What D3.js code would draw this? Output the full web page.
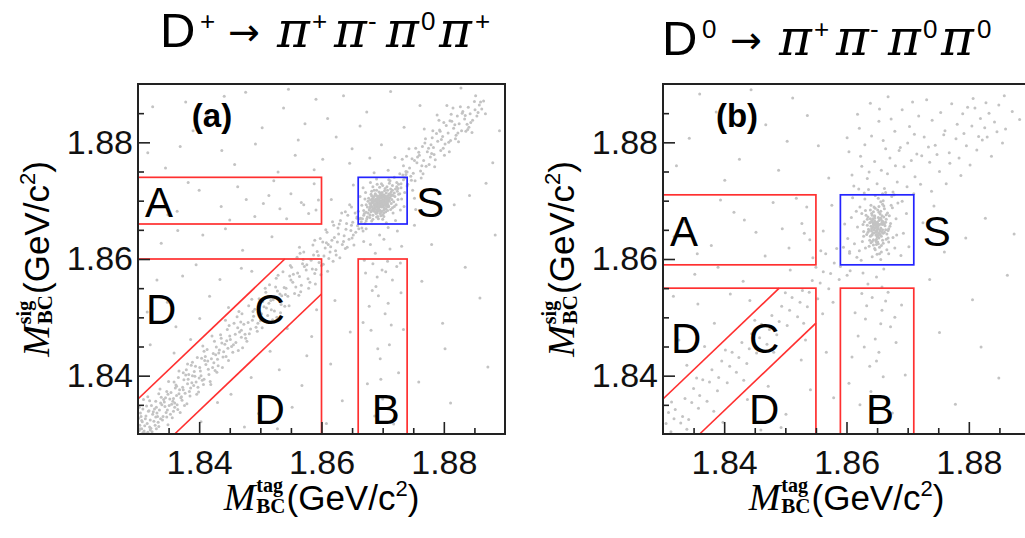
<!DOCTYPE html>
<html>
<head>
<meta charset="utf-8">
<script src="https://cdn.jsdelivr.net/npm/d3@7"></script>
<style>
  body { margin: 0; background: #fff; }
  svg { display: block; }
</style>
</head>
<body>
<svg id="chart" width="1025" height="538"></svg>
<script>
// Beam-constrained masses, MeV/c^2 (tag side, signal side)
const massDomain = [1830, 1890];
const majorTicks = [1840, 1860, 1880];
const majorTickLabels = ["1.84", "1.86", "1.88"];
const minorTicks = [1835, 1845, 1850, 1855, 1865, 1870, 1875, 1885];

// Region definitions: signal window, sideband upper edge, diagonal band half-width
const signalWindowA = [1866, 1874];
const sidebandEdgeA = 1860;
const diagHalfWidthA = 6;
const signalWindowB = [1859, 1871];
const sidebandEdgeB = 1855;
const diagHalfWidthB = 6;

// ---- D+ -> pi+ pi- pi0 pi+ candidates ----
const peakA = [
[1869.5,1869.4],[1870.2,1869.9],[1868.7,1868.8],[1869.9,1870.8],[1871.0,1870.1],[1868.2,1869.6],[1869.1,1867.9],[1870.6,1871.3],[1867.8,1868.4],[1869.7,1869.0],
[1870.9,1869.2],[1868.9,1870.3],[1869.3,1868.6],[1871.5,1871.0],[1868.4,1867.5],[1870.1,1868.9],[1869.0,1870.9],[1867.6,1869.9],[1870.4,1870.4],[1872.0,1870.7],
[1869.8,1869.7],[1869.2,1869.1],[1870.0,1870.2],[1868.6,1869.3],[1869.6,1868.3],[1870.7,1870.0],[1868.1,1868.1],[1871.3,1872.0],[1869.4,1871.5],[1870.5,1868.6],
[1867.9,1867.1],[1871.8,1869.8],[1868.8,1871.2],[1869.0,1869.6],[1870.3,1869.5],[1869.6,1870.0],[1868.5,1870.6],[1871.2,1870.5],[1870.8,1871.8],[1869.3,1870.3],
[1868.3,1868.9],[1869.9,1868.2],[1870.6,1869.4],[1867.3,1868.0],[1872.4,1871.6],[1869.5,1872.3],[1868.0,1870.1],[1871.6,1868.8],[1870.0,1867.6],[1869.2,1870.6],
[1869.7,1869.3],[1870.4,1869.7],[1868.9,1869.9],[1869.4,1868.9],[1870.9,1870.9],[1868.6,1868.2],[1870.2,1871.0],[1871.4,1869.5],[1869.0,1868.4],[1868.2,1870.8],
[1869.8,1870.5],[1869.1,1869.8],[1870.6,1870.6],[1868.7,1869.0],[1870.1,1869.3],[1869.5,1869.8],[1870.5,1868.1],[1867.7,1870.4],[1871.9,1871.3],[1870.0,1872.6],
[1868.4,1866.8],[1872.6,1872.8],[1866.9,1867.5],[1869.3,1866.9],[1871.1,1873.0],[1867.2,1871.4],[1873.1,1870.3],[1868.0,1873.1],[1872.9,1868.4],[1866.6,1869.2],
[1869.6,1869.1],[1870.3,1870.1],[1869.0,1870.2],[1868.8,1868.6],[1870.7,1869.9],[1869.9,1869.4],[1869.4,1870.1],[1870.1,1870.6],[1868.5,1869.7],[1871.0,1869.0],
[1869.2,1868.2],[1869.8,1871.1],[1870.8,1868.9],[1868.1,1869.2],[1871.7,1870.9],[1869.7,1867.4],[1867.5,1868.9],[1870.4,1872.1],[1868.6,1871.8],[1871.4,1871.5],
[1869.5,1870.4],[1870.0,1869.0],[1869.1,1869.5],[1870.5,1870.3],[1868.9,1868.0],[1870.2,1868.4],[1869.3,1870.7],[1870.9,1870.4],[1868.3,1870.3],[1871.3,1868.5],
[1872.2,1869.3],[1867.4,1866.9],[1873.4,1873.6],[1866.5,1866.4],[1869.0,1873.7],[1873.5,1869.0],[1866.8,1872.2],[1872.1,1866.6],[1870.6,1866.2],[1866.3,1870.7],
[1869.6,1869.6],[1869.9,1870.0],[1870.3,1869.2],[1869.0,1869.0],[1870.1,1870.9],[1868.7,1870.0],[1870.7,1870.7],[1869.4,1868.5],[1870.8,1869.6],[1869.7,1871.0],
[1868.4,1868.6],[1871.1,1871.2],[1869.2,1867.3],[1867.9,1869.5],[1871.5,1870.2],[1870.2,1867.9],[1868.2,1871.6],[1872.3,1872.4],[1867.0,1867.8],[1869.8,1872.9],
[1874.0,1872.5],[1865.8,1867.2],[1873.8,1874.5],[1866.1,1865.2],[1868.6,1874.8],[1875.2,1870.4],[1864.9,1868.9],[1870.9,1865.4],
[1869.4,1869.6],[1870.0,1869.8],[1869.1,1870.0],[1870.4,1870.8],[1868.8,1869.4],[1869.7,1870.7],[1870.6,1869.1],[1869.2,1868.8],[1868.5,1870.2],[1870.9,1870.2],
[1869.9,1871.4],[1868.9,1867.8],[1871.3,1870.8],[1867.9,1868.7],[1870.2,1867.3],[1868.3,1869.9],[1871.6,1871.8],[1869.6,1867.8],[1870.7,1872.4],[1867.6,1867.9],
[1869.0,1871.8],[1871.9,1869.0],[1868.1,1871.1],[1872.5,1870.2],[1870.3,1871.7],[1868.7,1870.9],[1869.3,1869.3],[1870.1,1870.0],[1869.8,1868.9],[1870.5,1869.6],
[1868.6,1868.5],[1869.5,1870.9],[1871.1,1869.9],[1868.0,1869.0],[1870.8,1870.5],[1869.7,1868.0],[1867.3,1869.3],[1872.1,1872.0],[1868.4,1872.4],[1871.7,1867.9],
[1866.9,1868.3],[1872.8,1871.2],[1870.0,1866.8],[1869.1,1872.8],[1867.1,1870.3],[1873.0,1872.9],[1868.2,1866.5],[1871.0,1873.6],[1866.7,1866.9],[1873.6,1871.4],
[1869.9,1869.1],[1869.3,1870.4],[1870.6,1870.2],[1868.9,1869.2],[1870.3,1868.7],[1869.6,1871.3],[1871.2,1871.1],[1868.2,1868.3],[1870.8,1868.3],[1869.0,1867.2]
];
const diagA = [
[1830.3,1831.5],[1830.8,1830.2],[1831.2,1832.6],[1831.0,1830.5],[1831.7,1833.9],[1832.1,1831.0],[1830.5,1833.0],[1832.6,1832.2],[1833.0,1830.9],[1831.4,1834.8],
[1833.5,1834.1],[1832.9,1835.6],[1834.0,1832.4],[1830.2,1834.6],[1833.8,1836.3],[1834.6,1833.7],[1832.3,1830.4],[1835.1,1834.9],[1831.9,1835.7],[1834.3,1835.5],
[1835.6,1832.8],[1830.7,1832.1],[1836.0,1835.3],[1833.2,1833.0],[1835.4,1837.1],[1836.5,1834.2],[1832.7,1834.3],[1834.9,1831.6],[1836.8,1837.6],[1837.2,1835.8],
[1833.6,1837.7],[1836.2,1838.4],[1837.7,1837.0],[1838.0,1835.2],[1835.8,1836.1],[1830.9,1835.9],[1837.5,1839.3],[1838.6,1837.9],[1836.9,1833.7],[1839.1,1838.3],
[1838.3,1840.2],[1839.6,1836.8],[1837.9,1841.0],[1840.0,1839.6],[1839.4,1841.6],[1840.7,1838.5],[1841.1,1841.9],[1838.9,1842.3],[1841.6,1840.2],[1840.4,1843.0],
[1842.2,1841.4],[1841.8,1839.0],[1842.7,1843.6],[1843.1,1841.7],[1841.3,1844.5],[1843.9,1843.2],[1844.2,1845.4],[1842.5,1845.9],[1844.8,1842.6],[1845.3,1845.0],
[1843.6,1846.4],[1845.9,1847.1],[1846.4,1844.3],[1844.6,1847.9],[1846.9,1846.6],[1847.3,1848.8],[1845.7,1849.0],[1847.8,1845.9],[1848.4,1848.0],[1846.2,1850.1],
[1848.9,1850.2],[1849.5,1847.6],[1849.1,1851.4],[1850.0,1849.4],[1848.1,1852.0],[1850.6,1851.8],[1851.2,1850.3],[1849.8,1853.2],[1851.7,1852.9],[1852.3,1851.1],
[1850.9,1854.3],[1852.8,1854.5],[1853.4,1852.2],[1851.5,1855.6],[1853.9,1855.1],[1854.5,1853.6],[1852.6,1856.7],[1855.0,1856.4],[1855.6,1854.1],[1853.7,1857.8],
[1856.1,1857.6],[1856.7,1855.5],[1854.9,1858.9],[1857.2,1858.7],[1857.8,1856.6],[1856.0,1860.3],[1858.3,1859.8],[1858.9,1857.5],[1857.1,1861.2],[1859.5,1860.6],
[1860.0,1858.9],[1858.6,1862.4],[1860.6,1861.9],[1861.2,1860.1],[1859.8,1863.5],[1861.7,1863.2],[1862.3,1861.4],[1860.9,1864.6],[1862.8,1864.3],[1863.4,1862.5],
[1862.0,1865.8],[1864.0,1865.1],[1864.5,1863.4],[1863.1,1866.6],[1865.1,1866.3],[1865.6,1864.6],[1864.3,1867.5],
[1830.6,1830.9],[1831.5,1831.8],[1832.4,1833.4],[1830.1,1832.7],[1833.3,1832.0],[1834.4,1834.7],[1831.8,1834.0],[1835.2,1836.0],[1833.9,1835.0],[1836.3,1836.6],
[1834.7,1837.3],[1837.0,1836.2],[1835.9,1838.9],[1838.1,1838.6],[1836.6,1839.7],[1839.3,1839.9],[1837.4,1840.5],[1840.2,1840.8],[1838.7,1841.8],[1841.4,1842.5],
[1839.7,1843.1],[1842.0,1842.9],[1840.8,1844.2],[1843.3,1844.4],[1842.9,1840.6],[1844.0,1844.1],[1843.5,1847.0],[1845.1,1846.2],[1846.6,1847.5],[1844.9,1848.6],
[1847.5,1847.1],[1848.7,1849.5],[1847.0,1850.6],[1849.9,1850.9],[1851.0,1851.6],[1850.3,1848.2],[1852.1,1853.0],[1853.2,1854.0],[1852.0,1849.6],[1854.2,1855.0],
[1855.3,1856.0],[1854.0,1851.9],[1856.4,1857.0],[1857.5,1858.1],[1856.3,1853.8],[1858.5,1858.3],[1859.6,1859.4],[1859.0,1855.7],[1860.4,1860.5],[1861.5,1862.1],
[1861.0,1857.9],[1862.6,1862.9],[1863.7,1864.0],[1863.0,1860.2],[1864.8,1864.9],[1865.9,1865.7],[1865.3,1862.4],[1866.4,1867.0],[1867.1,1866.1],[1866.0,1868.2],
[1830.2,1830.6],[1830.4,1833.6],[1831.1,1831.4],[1831.6,1830.3],[1832.0,1832.4],[1832.2,1834.9],[1832.8,1831.5],[1833.1,1833.6],[1833.4,1831.3],[1833.7,1835.3],
[1834.1,1833.0],[1834.5,1836.2],[1834.8,1834.1],[1835.3,1833.4],[1835.7,1835.6],[1836.1,1837.9],[1836.4,1835.0],[1836.7,1836.9],[1837.3,1838.0],[1837.6,1834.9],
[1838.2,1839.4],[1838.5,1836.5],[1838.8,1838.8],[1839.2,1840.7],[1839.8,1838.0],[1840.1,1841.4],[1840.5,1839.2],[1840.9,1842.6],[1841.5,1841.1],[1842.3,1843.8],
[1842.6,1840.9],[1843.0,1842.8],[1843.7,1845.6],[1844.4,1843.3],[1845.0,1846.8],[1845.5,1844.0],[1846.0,1845.7],[1846.8,1849.2],[1847.6,1846.4],[1848.2,1847.2],
[1848.8,1851.0],[1849.6,1849.0],[1850.4,1852.7],[1851.1,1849.1],[1851.8,1851.3],[1852.5,1855.2],[1853.3,1850.8],[1854.1,1853.9],[1854.8,1857.1],[1855.8,1855.2],
[1856.9,1859.2],[1857.9,1855.0],[1858.7,1860.7],[1859.9,1857.3],[1860.8,1862.8],[1861.9,1859.6],[1862.9,1866.0],[1864.2,1862.0],[1865.5,1867.9],[1866.8,1864.8],
[1867.5,1867.2],
[1830.6,1832.3],[1831.9,1831.2],[1830.3,1830.9],[1832.5,1833.8],[1831.3,1833.1],[1833.7,1832.6],[1830.8,1834.3],[1834.2,1835.9],[1832.0,1830.7],[1833.0,1834.6],
[1835.5,1835.1],[1831.6,1836.4],[1834.7,1832.9],[1836.3,1838.2],[1833.4,1836.9],[1837.1,1836.4],[1835.0,1839.0],[1838.4,1837.3],[1836.0,1834.6],[1837.8,1840.1],
[1839.5,1838.9],[1838.1,1842.0],[1840.3,1840.0],[1836.7,1840.8],[1841.0,1843.3],[1839.9,1837.2],[1842.4,1842.2],[1840.6,1845.1],[1843.2,1843.9],[1841.9,1838.5],
[1844.5,1846.0],[1843.8,1841.4],[1842.1,1846.8],[1845.6,1845.3],[1846.3,1848.2],[1844.3,1849.5],[1847.1,1844.8],[1848.0,1849.1],[1846.5,1851.0],[1849.3,1848.3],
[1850.2,1850.6],[1848.6,1853.1],[1851.4,1852.4],[1852.7,1850.0],[1850.8,1855.0],[1853.5,1853.7],[1854.7,1852.0],[1852.9,1857.2],[1855.4,1857.4],[1856.6,1854.4],
[1855.1,1858.6],[1857.6,1859.0],[1858.1,1856.0],[1856.5,1861.0],[1859.3,1861.3],[1860.3,1859.1],[1858.9,1863.2],[1861.1,1862.5],[1862.4,1860.7],[1860.7,1865.0],
[1862.1,1863.7],[1863.6,1863.0],[1861.8,1866.4],[1864.1,1866.1],[1865.0,1863.6],[1863.3,1867.9],[1865.8,1867.0],[1866.6,1865.3],[1864.6,1869.3],[1867.3,1866.5],
[1857.0,1859.9],[1859.1,1858.2],[1860.2,1862.9],[1861.4,1861.2],[1863.9,1861.8],[1862.7,1865.3],[1864.9,1865.8],[1866.2,1866.9],[1865.2,1864.1],[1867.9,1867.6],
[1831.1,1830.1],[1832.9,1832.9],[1834.9,1836.8],[1835.8,1833.9],[1837.4,1837.6],[1838.9,1840.0],[1840.8,1839.4],[1842.8,1844.9],[1844.7,1844.7],[1846.9,1847.8],
[1872.3,1873.1],[1873.0,1872.2],[1872.8,1874.6],[1873.6,1873.9],[1874.1,1872.8],[1874.4,1875.6],[1873.4,1876.0],[1875.0,1874.7],[1875.6,1876.5],[1874.8,1877.2],
[1876.2,1875.1],[1876.0,1877.8],[1876.7,1876.9],[1877.3,1878.4],[1877.1,1875.9],[1877.8,1877.5],[1876.5,1879.3],[1878.3,1879.1],[1878.6,1877.0],[1879.0,1880.2],
[1878.1,1880.8],[1879.5,1878.6],[1879.8,1881.0],[1880.2,1879.7],[1879.3,1882.1],[1880.7,1881.6],[1881.1,1880.3],[1880.4,1882.9],[1881.6,1882.4],[1882.0,1881.2],
[1881.3,1883.6],[1882.5,1883.2],[1882.9,1882.0],[1882.2,1884.5],[1883.4,1884.0],[1883.8,1883.1],[1883.1,1885.3],[1884.3,1884.9],[1884.7,1883.8],[1884.0,1886.0],
[1885.1,1885.6],[1885.4,1884.5],[1885.8,1886.4],[1886.2,1885.7],[1872.6,1871.1],[1873.8,1875.0],[1875.3,1873.4],[1875.9,1878.3],[1877.6,1876.2],[1878.8,1881.5],
[1879.9,1879.0],[1881.0,1883.7],[1881.9,1880.6],[1883.0,1885.0],[1884.1,1882.6],[1885.0,1887.0],[1874.6,1874.2],[1876.9,1879.9],[1878.0,1878.1],[1880.0,1883.4],
[1882.7,1886.1],[1883.6,1881.9],[1886.5,1887.1],[1871.9,1874.0],[1873.2,1877.1],[1875.4,1879.0],[1877.0,1880.6],[1879.2,1883.8],[1881.5,1885.9],[1874.9,1871.8],
[1876.3,1873.9],[1878.5,1875.8],[1880.9,1878.4],[1882.4,1880.1],[1884.6,1881.7],[1870.9,1875.2],[1872.0,1877.4],[1886.8,1884.9],[1880.5,1886.3],[1878.9,1884.7],
[1876.8,1882.3],[1874.3,1878.9],
[1872.5,1872.1],[1873.3,1874.4],[1874.7,1873.5],[1875.2,1876.9],[1876.4,1876.0],[1877.5,1879.0],[1878.4,1877.9],[1879.6,1880.5],[1880.8,1880.0],[1881.8,1883.0],
[1882.3,1881.6],[1883.5,1884.6],[1884.4,1883.4],[1885.6,1885.1],[1886.0,1886.9],[1873.9,1877.6],[1876.6,1874.6],[1878.2,1882.0],[1880.1,1877.8],[1881.2,1884.8],
[1883.9,1882.2],[1885.2,1888.0],[1875.7,1877.5],[1877.9,1879.6],[1879.4,1881.9],[1871.6,1872.6],[1874.0,1874.9],[1871.2,1873.4]
];
const bandsA = [
[1868.4,1859.2],[1869.9,1858.1],[1867.2,1857.6],[1870.8,1859.6],[1871.6,1856.4],[1868.9,1855.3],[1872.3,1858.7],[1869.3,1853.7],[1867.8,1851.9],[1870.4,1850.6],
[1873.0,1854.2],[1868.1,1847.8],[1871.1,1845.3],[1869.6,1842.9],[1872.6,1840.5],[1867.5,1838.6],[1870.0,1836.0],[1868.7,1833.1],[1871.8,1831.7],[1869.1,1856.9],
[1870.5,1857.8],[1867.0,1859.8],[1872.9,1859.3],[1868.3,1854.6],[1870.9,1852.4],[1866.8,1849.1],[1873.4,1847.9],[1869.2,1844.6],[1871.4,1848.7],[1869.7,1839.4],
[1868.0,1862.5],[1869.5,1864.1],[1871.2,1861.7],[1870.2,1863.4],[1867.3,1865.2],[1872.4,1864.8],[1868.8,1861.0],[1866.9,1863.0],[1873.1,1862.2],
[1832.8,1870.5],[1836.4,1868.2],[1840.0,1871.8],[1843.6,1869.0],[1846.3,1872.4],[1849.1,1867.3],[1851.4,1870.9],[1853.2,1868.6],[1855.0,1871.2],[1856.7,1869.7],
[1857.9,1867.8],[1858.8,1872.9],[1859.5,1870.1],[1838.2,1873.1],[1845.0,1866.7],[1852.2,1873.4],[1854.3,1866.9],[1857.1,1869.3],[1859.1,1868.4],[1847.7,1870.2],
[1834.9,1867.6],[1850.5,1869.5],[1875.4,1868.5],[1876.8,1871.7],[1878.2,1869.9]
];
const flatA = [
[1832.4,1886.1],[1836.9,1879.3],[1841.2,1884.7],[1845.8,1876.2],[1850.3,1882.5],[1855.7,1877.8],[1859.1,1887.4],[1862.4,1880.9],[1834.5,1875.6],[1847.6,1888.6],
[1852.9,1874.9],[1857.3,1883.2],[1839.0,1882.0],[1843.7,1878.6],[1864.6,1876.4],[1861.0,1884.1],[1849.2,1879.7],[1853.8,1885.9],[1858.8,1875.3],[1863.6,1888.0],
[1866.3,1882.8],[1831.6,1878.2],[1844.1,1887.9],[1856.2,1880.4],[1837.8,1886.9],[1865.0,1878.9],[1860.2,1877.1],[1854.6,1889.1],
[1833.8,1862.7],[1840.6,1864.1],[1847.1,1861.5],[1851.9,1863.8],[1856.4,1862.0],[1844.3,1865.2],[1836.5,1864.9],
[1832.0,1845.3],[1834.8,1852.6],[1837.3,1857.1],[1840.1,1849.8],[1843.4,1856.5],[1846.9,1858.4],[1831.5,1850.9],[1838.6,1846.2],[1835.9,1843.9],[1841.7,1853.6],
[1844.8,1851.7],[1848.6,1857.9],[1833.1,1856.4],[1839.5,1859.0],[1836.2,1848.4],
[1840.3,1832.1],[1845.2,1836.8],[1849.7,1833.5],[1853.1,1841.0],[1856.8,1838.3],[1858.4,1846.7],[1851.6,1844.2],[1847.4,1831.2],[1855.2,1834.6],[1859.2,1851.3],
[1843.0,1835.4],[1852.8,1830.9],[1857.6,1843.4],[1848.5,1839.7],[1854.4,1848.1],
[1861.5,1842.0],[1863.4,1835.7],[1862.2,1852.9],[1864.7,1847.5],[1860.8,1831.8],
[1876.4,1856.2],[1879.8,1849.0],[1883.5,1858.6],[1887.2,1841.5],[1881.1,1835.3],[1878.0,1862.5],[1885.9,1853.3],[1875.9,1838.9],[1888.4,1864.1],[1880.2,1844.6],
[1878.6,1867.4],[1884.2,1870.9],[1888.0,1876.5],[1876.1,1886.3],[1871.3,1888.7],[1867.4,1885.2],[1869.8,1879.6],[1873.5,1882.6],[1886.9,1873.0],[1881.7,1869.3],
[1889.1,1882.0],[1875.2,1865.8],[1867.9,1877.3],[1882.8,1889.3],
[1861.6,1870.2],[1863.9,1868.1],[1865.2,1872.7]
];

// ---- D0 -> pi+ pi- pi0 pi0 candidates ----
const peakB = [
[1864.9,1865.5],[1865.6,1866.8],[1864.2,1864.1],[1865.3,1863.6],[1864.6,1867.4],[1865.9,1865.0],[1863.8,1866.2],[1865.1,1862.9],[1866.4,1866.3],[1864.4,1868.1],
[1865.0,1864.7],[1864.7,1866.0],[1865.4,1865.9],[1864.1,1865.2],[1866.0,1864.4],[1865.2,1867.1],[1863.5,1864.6],[1866.7,1867.9],[1864.8,1863.1],[1865.7,1862.3],
[1864.3,1866.9],[1865.5,1864.2],[1864.0,1862.8],[1866.2,1868.6],[1863.2,1867.5],[1865.8,1866.5],[1864.5,1865.0],[1865.1,1866.1],[1866.9,1865.2],[1863.9,1863.9],
[1865.3,1869.0],[1864.6,1861.8],[1866.5,1863.4],[1863.4,1865.8],[1865.0,1865.6],[1864.9,1864.9],[1865.6,1865.3],[1864.2,1866.6],[1866.1,1867.2],[1864.7,1868.7],
[1865.2,1864.0],[1863.7,1862.2],[1867.2,1866.1],[1864.4,1863.3],[1865.9,1869.4],[1862.9,1866.4],[1866.6,1861.6],[1864.1,1867.8],[1865.4,1860.9],[1867.5,1868.8],
[1864.8,1865.8],[1865.1,1865.1],[1864.5,1864.5],[1865.7,1866.0],[1864.3,1865.4],[1866.3,1865.7],[1865.0,1863.8],[1864.6,1866.5],[1865.8,1864.6],[1863.6,1865.1],
[1865.5,1867.7],[1864.0,1864.0],[1866.8,1864.9],[1864.9,1862.5],[1863.1,1868.3],[1866.0,1870.0],[1862.6,1863.0],[1867.6,1863.7],[1865.2,1870.4],[1864.2,1860.4],
[1861.8,1865.5],[1868.1,1866.9],[1862.2,1868.9],[1867.9,1861.9],[1865.6,1859.9],[1863.0,1870.3],[1868.4,1869.6],[1861.3,1862.6],[1866.4,1871.4],[1860.8,1867.1],
[1865.0,1866.3],[1864.7,1865.3],[1865.3,1864.4],[1864.4,1865.9],[1865.9,1865.9],[1864.1,1864.8],[1865.6,1867.0],[1864.9,1863.4],[1866.2,1866.0],[1863.9,1866.9],
[1865.4,1862.0],[1864.6,1867.3],[1866.6,1864.3],[1863.3,1864.2],[1865.1,1868.4],[1866.0,1862.7],[1864.0,1869.2],[1867.0,1867.4],[1862.8,1864.7],[1865.7,1861.2],
[1864.3,1866.2],[1865.2,1865.7],[1864.8,1864.6],[1865.5,1865.0],[1864.5,1866.0],[1865.8,1866.2],[1864.0,1865.6],[1866.4,1865.0],[1865.0,1864.2],[1864.6,1867.0],
[1869.3,1864.4],[1860.2,1863.5],[1869.8,1867.8],[1861.0,1870.5],[1868.9,1860.6],[1862.4,1859.8],[1870.2,1862.1],[1859.7,1866.0],[1867.4,1870.7],[1863.6,1871.9],
[1865.3,1866.6],[1864.8,1864.1],[1865.9,1863.2],[1864.2,1867.5],[1866.5,1866.8],[1863.8,1863.2],[1865.6,1868.2],[1864.4,1862.4],[1866.1,1869.1],[1863.5,1867.2],
[1867.1,1865.6],[1862.7,1865.9],[1866.9,1862.9],[1862.1,1861.4],[1868.2,1864.1],[1861.6,1868.2],[1867.8,1871.0],[1860.5,1861.3],[1869.1,1869.9],[1862.0,1872.0],
[1865.1,1865.3],[1864.6,1866.3],[1865.5,1864.8],[1864.3,1864.4],[1865.8,1867.4],[1864.9,1862.9],[1865.3,1868.0],[1864.0,1866.4],[1866.2,1864.6],[1864.7,1861.6],
[1865.6,1869.8],[1863.7,1864.9],[1866.5,1867.6],[1864.5,1868.9],[1865.0,1860.8],[1863.4,1866.8],[1866.8,1863.6],[1864.2,1863.0],[1865.4,1866.9],[1864.8,1865.9],
[1865.2,1862.6],[1863.9,1868.4],[1866.0,1866.4],[1864.4,1865.6],[1865.7,1863.9],[1867.3,1869.2],[1862.5,1867.8],[1866.9,1860.9],[1863.1,1861.9],[1865.9,1871.2]
];
const diagB = [
[1830.5,1831.8],[1831.3,1830.4],[1832.0,1834.2],[1832.9,1831.9],[1833.6,1836.1],[1834.2,1832.5],[1835.0,1837.8],[1835.8,1834.4],[1836.5,1839.3],[1837.2,1835.6],
[1838.0,1841.0],[1838.9,1837.4],[1839.6,1842.5],[1840.5,1838.8],[1841.3,1844.0],[1842.0,1840.6],[1842.9,1845.7],[1843.7,1842.1],[1844.5,1847.2],[1845.3,1843.9],
[1846.1,1848.8],[1847.0,1845.4],[1847.8,1850.3],[1848.6,1847.0],[1849.4,1851.9],[1850.3,1848.6],[1851.1,1853.4],[1852.0,1850.1],[1852.8,1854.6],[1853.6,1851.8],
[1854.4,1856.3],[1855.3,1853.2],[1856.2,1857.8],[1857.1,1854.9],[1858.0,1859.3],[1858.8,1856.5],
[1830.9,1833.7],[1831.8,1832.6],[1833.2,1833.0],[1834.7,1835.4],[1836.0,1836.6],[1837.6,1838.9],[1839.1,1839.7],[1840.9,1841.6],[1842.4,1843.1],[1844.1,1844.6],
[1845.8,1846.5],[1847.4,1847.9],[1849.0,1849.3],[1850.7,1851.2],[1852.4,1852.6],[1853.9,1854.3],[1855.7,1855.9],[1857.4,1857.5],[1859.0,1858.7],[1860.5,1861.0],
[1861.7,1860.3],[1862.8,1863.9],
[1831.4,1835.5],[1833.9,1830.8],[1835.5,1839.6],[1838.3,1833.9],[1840.2,1844.4],[1843.2,1839.2],[1845.0,1849.5],[1848.1,1844.0],[1850.0,1854.2],[1853.0,1849.0],
[1855.0,1858.6],[1857.8,1852.6],[1859.5,1862.0],[1860.1,1857.2],[1856.6,1860.9],[1858.4,1861.8]
];
const cloudB = [
[1861.2,1872.5],[1863.4,1873.8],[1865.0,1872.9],[1866.7,1874.6],[1868.3,1873.2],[1862.5,1875.9],[1864.6,1876.7],[1867.1,1877.3],[1869.4,1875.8],[1871.2,1874.1],
[1860.4,1878.4],[1863.0,1879.6],[1866.0,1880.3],[1868.8,1879.1],[1871.5,1878.0],[1873.6,1876.6],[1875.2,1875.0],[1862.1,1882.4],[1865.3,1883.6],[1867.9,1881.9],
[1870.3,1882.7],[1872.7,1880.9],[1874.5,1879.5],[1876.8,1878.2],[1878.4,1877.3],[1869.1,1885.6],[1871.8,1884.5],[1874.0,1883.8],[1876.1,1882.0],[1877.9,1880.6],
[1879.6,1879.4],[1881.3,1878.7],[1880.5,1882.8],[1881.9,1884.1],[1882.6,1882.5],[1883.3,1885.0],[1881.0,1885.9],[1884.2,1883.5],[1882.2,1880.4],[1879.0,1884.9],
[1877.2,1886.6],[1875.4,1885.1],[1873.1,1887.3],[1884.9,1886.4],[1886.0,1882.3],[1885.5,1879.9],[1883.7,1877.6],[1880.2,1876.1],[1878.7,1874.3],[1876.3,1872.9],
[1873.9,1871.6],[1872.1,1872.8],[1870.6,1876.9],[1868.6,1878.6],[1866.4,1878.9],[1864.1,1881.1],[1861.8,1884.8],[1863.9,1886.7],[1866.8,1887.8],[1860.9,1874.4],
[1862.9,1871.3],[1864.7,1870.9],[1866.2,1872.1],[1867.6,1871.5],[1869.9,1872.4],[1871.0,1871.2],[1863.7,1874.9],[1865.7,1875.2],[1868.0,1876.0],[1870.0,1879.9],
[1872.3,1877.7],[1874.8,1877.9],[1876.9,1876.4],[1879.2,1881.5],[1881.6,1881.0],[1883.0,1880.9],[1884.6,1881.8],[1882.8,1886.8],[1880.7,1887.5],[1878.1,1883.1],
[1875.9,1881.3],[1873.4,1879.2],[1871.1,1881.4],[1867.3,1884.0],[1862.3,1877.6],[1860.1,1880.8],[1885.8,1888.0],[1887.1,1885.3],[1888.3,1883.9],[1870.8,1886.9],
[1865.4,1885.7],[1879.8,1886.0]
];
const bandsB = [
[1864.2,1853.4],[1865.8,1851.2],[1863.1,1849.7],[1866.4,1852.8],[1862.5,1854.1],[1867.2,1848.4],[1864.7,1846.3],[1861.4,1850.8],[1865.3,1844.0],[1868.1,1845.7],
[1863.8,1841.6],[1866.0,1839.8],[1860.9,1843.2],[1869.0,1852.1],[1864.0,1837.3],[1862.2,1835.0],[1867.5,1833.6],[1865.6,1848.9],[1863.3,1852.0],[1866.8,1854.3],
[1861.9,1846.8],[1864.9,1842.5],[1869.6,1840.1],[1860.4,1838.7],[1865.1,1831.9],[1867.9,1850.0],[1862.9,1844.9],
[1833.5,1866.4],[1837.9,1862.3],[1841.6,1868.0],[1845.2,1864.6],[1848.0,1869.7],[1850.6,1861.9],[1852.7,1866.1],[1854.0,1863.3],[1853.5,1868.9],[1849.5,1865.2],
[1846.7,1860.5],[1839.4,1870.1],[1835.6,1860.9],[1851.8,1870.4],[1854.5,1860.2],[1843.3,1866.7],[1831.8,1863.8],[1853.1,1864.4]
];
const flatB = [
[1834.3,1880.7],[1838.7,1885.2],[1842.5,1877.1],[1846.8,1883.0],[1851.2,1887.6],[1855.4,1879.4],[1840.1,1873.5],[1848.9,1875.2],[1853.6,1884.6],[1836.0,1888.3],
[1857.1,1873.9],[1832.2,1876.0],[1844.4,1889.0],[1850.3,1880.2],
[1835.2,1857.4],[1843.1,1856.2],[1850.8,1858.1],[1839.0,1858.6],
[1832.6,1846.1],[1835.7,1852.3],[1838.4,1849.0],[1841.0,1854.0],[1833.9,1841.8],[1836.8,1845.0],[1844.2,1852.9],[1831.7,1853.6],[1839.8,1832.0],[1843.8,1835.9],
[1847.2,1838.2],[1850.1,1833.4],[1852.6,1842.7],[1854.1,1837.6],[1849.3,1831.1],[1846.0,1830.7],[1853.3,1846.1],
[1856.7,1844.0],[1857.9,1836.2],[1856.1,1850.6],
[1875.2,1847.4],[1880.6,1853.0],[1884.9,1839.6],[1877.8,1835.1],[1886.3,1857.2],[1873.6,1856.5],[1882.0,1844.9],
[1876.0,1861.2],[1882.7,1867.0],[1887.4,1864.3],[1874.3,1869.1],[1879.5,1863.6],[1872.5,1866.2],
[1856.2,1864.8],[1857.6,1869.2],[1855.8,1861.4],
[1862.7,1857.6],[1864.9,1856.9],[1866.1,1858.3],[1863.5,1855.7],[1865.8,1855.2],[1860.6,1858.0]
];

// Titles: [text, role]
const titleA = [["D",""],["+","sup"],["\u2192","arrow"],["\u03c0","pi"],["+","sup"],["\u03c0","pi"],["-","sup"],["\u03c0","pi"],["0","sup"],["\u03c0","pi"],["+","sup"]];
const titleB = [["D",""],["0","sup"],["\u2192","arrow"],["\u03c0","pi"],["+","sup"],["\u03c0","pi"],["-","sup"],["\u03c0","pi"],["0","sup"],["\u03c0","pi"],["0","sup"]];
const panelTags = ["(a)", "(b)"];

// ---------------------------------------------------------------
const svg = d3.select("#chart");
const SANS = "'Liberation Sans', Arial, sans-serif";
const SERIF = "'Liberation Serif', 'Times New Roman', serif";
const PW = 367, PH = 350;

// horizontal placement of each title glyph, relative to the title start
const titleOffsets = [0, 40, 68, 117, 152, 174, 208, 226, 261, 279, 315];

const panels = [
  { left: 138, top: 84, sig: signalWindowA, side: sidebandEdgeA, half: diagHalfWidthA,
    points: [...flatA, ...bandsA, ...diagA, ...peakA], title: titleA, titleX: 160, titleY: 47, tag: panelTags[0] },
  { left: 663, top: 84, sig: signalWindowB, side: sidebandEdgeB, half: diagHalfWidthB,
    points: [...flatB, ...bandsB, ...diagB, ...cloudB, ...peakB], title: titleB, titleX: 662, titleY: 55, tag: panelTags[1] }
];

function axisTitle(parent, supText) {
  const g = parent.append("g");
  const m = g.append("text").attr("font-family", SERIF).attr("font-style", "italic")
    .attr("font-size", 38).attr("fill", "#000").text("M");
  const mw = m.node().getComputedTextLength();
  const s1 = g.append("text").attr("x", mw + 1).attr("y", -18).attr("font-family", SERIF)
    .attr("font-weight", "bold").attr("font-size", 20).attr("fill", "#000").text(supText);
  const s2 = g.append("text").attr("x", mw + 1).attr("y", 3).attr("font-family", SERIF)
    .attr("font-weight", "bold").attr("font-size", 21).attr("fill", "#000").text("BC");
  const sw = Math.max(s1.node().getComputedTextLength(), s2.node().getComputedTextLength());
  const u = g.append("text").attr("x", mw + sw + 2).attr("font-family", SANS)
    .attr("font-size", 35).attr("fill", "#000");
  u.append("tspan").text("(GeV/c");
  u.append("tspan").attr("dy", -14).attr("font-size", 22).text("2");
  u.append("tspan").attr("dy", 14).text(")");
  const total = mw + sw + 2 + u.node().getComputedTextLength();
  return { g, total };
}

panels.forEach((p, i) => {
  const x = d3.scaleLinear().domain(massDomain).range([p.left, p.left + PW]);
  const y = d3.scaleLinear().domain(massDomain).range([p.top + PH, p.top]);
  const root = svg.append("g");

  const clipId = "clip" + i;
  svg.append("defs").append("clipPath").attr("id", clipId)
    .append("rect").attr("x", p.left).attr("y", p.top).attr("width", PW).attr("height", PH);

  // scatter
  root.append("g").attr("clip-path", `url(#${clipId})`)
    .selectAll("circle").data(p.points).join("circle")
    .attr("cx", d => x(d[0])).attr("cy", d => y(d[1])).attr("r", 1.5)
    .attr("fill", "#c3c3c3");

  // regions
  const [lo, hi] = p.sig, m0 = massDomain[0];
  const boxes = [
    { x0: m0, x1: p.side, y0: lo, y1: hi, c: "#ff3030" },     // A
    { x0: lo, x1: hi, y0: m0, y1: p.side, c: "#ff3030" },     // B
    { x0: m0, x1: p.side, y0: m0, y1: p.side, c: "#ff3030" }, // D
    { x0: lo, x1: hi, y0: lo, y1: hi, c: "#2424ff" }          // S
  ];
  root.append("g").selectAll("rect").data(boxes).join("rect")
    .attr("x", d => x(d.x0)).attr("y", d => y(d.y1))
    .attr("width", d => x(d.x1) - x(d.x0)).attr("height", d => y(d.y0) - y(d.y1))
    .attr("fill", "none").attr("stroke", d => d.c).attr("stroke-width", 1.7);
  const lines = [
    [[m0, m0 + p.half], [p.side - p.half, p.side]],
    [[m0 + p.half, m0], [p.side, p.side - p.half]]
  ];
  root.append("g").selectAll("line").data(lines).join("line")
    .attr("x1", d => x(d[0][0])).attr("y1", d => y(d[0][1]))
    .attr("x2", d => x(d[1][0])).attr("y2", d => y(d[1][1]))
    .attr("stroke", "#ff3030").attr("stroke-width", 1.7);

  // axes with inward ticks
  const styleAxis = sel => {
    sel.select(".domain").remove();
    sel.selectAll(".tick line").attr("stroke", "#222").attr("stroke-width", 1.6);
    sel.selectAll("text").attr("font-family", SANS).attr("font-size", 34).attr("fill", "#111");
  };
  root.append("g").attr("transform", `translate(0,${p.top + PH})`)
    .call(d3.axisBottom(x).tickValues(minorTicks).tickSize(-6).tickFormat(""))
    .call(styleAxis);
  root.append("g").attr("transform", `translate(0,${p.top + PH})`)
    .call(d3.axisBottom(x).tickValues(majorTicks).tickSize(-12).tickPadding(16)
      .tickFormat((d, k) => majorTickLabels[k]))
    .call(styleAxis);
  root.append("g").attr("transform", `translate(${p.left},0)`)
    .call(d3.axisLeft(y).tickValues(minorTicks).tickSize(-6).tickFormat(""))
    .call(styleAxis);
  root.append("g").attr("transform", `translate(${p.left},0)`)
    .call(d3.axisLeft(y).tickValues(majorTicks).tickSize(-12).tickPadding(5)
      .tickFormat((d, k) => majorTickLabels[k]))
    .call(styleAxis);

  // frame
  root.append("rect").attr("x", p.left).attr("y", p.top).attr("width", PW).attr("height", PH)
    .attr("fill", "none").attr("stroke", "#222").attr("stroke-width", 2);

  // region letters
  const letter = (t, px, py, anchor) => root.append("text").attr("x", px).attr("y", py)
    .attr("text-anchor", anchor || "start").attr("font-family", SANS).attr("font-size", 42)
    .attr("fill", "#000").text(t);
  letter("A", x(m0) + 7, (y(hi) + y(lo)) / 2 + 16);
  letter("S", x(hi) + 9, (y(hi) + y(lo)) / 2 + 16);
  letter("D", x(m0) + 8, y(p.side) + 65);
  letter("C", x(p.side) - 67, y(p.side) + 65);
  letter("D", x(p.side) - 67, y(m0) - 10);
  letter("B", (x(lo) + x(hi)) / 2 + 3, y(m0) - 10, "middle");

  // panel tag
  root.append("text").attr("x", p.left + 74).attr("y", p.top + 43).attr("text-anchor", "middle")
    .attr("font-family", SANS).attr("font-weight", "bold").attr("font-size", 33).attr("fill", "#000")
    .text(p.tag);

  // title, one text element per glyph group
  const tg = root.append("g");
  p.title.forEach(([s, role], k) => {
    const t = tg.append("text").attr("x", p.titleX + titleOffsets[k]).attr("fill", "#000").text(s);
    if (role === "") t.attr("font-family", SANS).attr("font-size", 49).attr("y", p.titleY);
    if (role === "sup") t.attr("font-family", SANS).attr("font-size", 26).attr("y", p.titleY - 17);
    if (role === "arrow") t.attr("font-family", "'DejaVu Sans', sans-serif").attr("font-size", 38).attr("y", p.titleY - 2);
    if (role === "pi") t.attr("font-family", "'DejaVu Serif', serif").attr("font-style", "italic")
      .attr("font-size", 50).attr("y", p.titleY);
  });

  // axis titles
  const xt = axisTitle(root, "tag");
  xt.g.attr("transform", `translate(${p.left + PW / 2 - xt.total / 2},510)`);
  const yt = axisTitle(root, "sig");
  yt.g.attr("transform", `translate(${p.left - 89},${p.top + PH / 2 + yt.total / 2}) rotate(-90)`);
});
</script>
</body>
</html>
